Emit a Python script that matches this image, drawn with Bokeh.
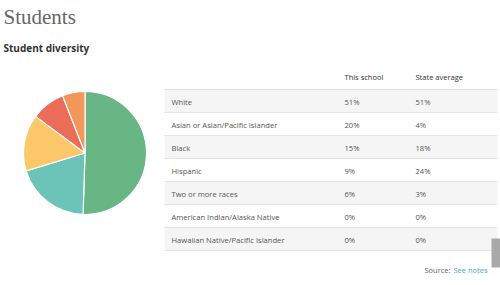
import numpy as np
from bokeh.plotting import figure
from bokeh.models import Range1d, ColumnDataSource
from bokeh.core.properties import value
from bokeh.embed import file_html
from bokeh.resources import INLINE

# ---- data ----
groups = ["White", "Asian or Asian/Pacific Islander", "Black", "Hispanic",
          "Two or more races", "American Indian/Alaska Native",
          "Hawaiian Native/Pacific Islander"]
this_school = [51, 20, 15, 9, 6, 0, 0]
state_average = [51, 4, 18, 24, 3, 0, 0]
slice_colors = ["#68b684", "#6cc3b7", "#fcc869", "#eb6c58", "#f3965a", "#999999", "#bbbbbb"]
col_headers = ["This school", "State average"]

W, H = 500, 285
def Y(y):
    return H - y

p = figure(width=W, height=H, x_range=Range1d(0, W), y_range=Range1d(0, H),
           output_backend="svg", toolbar_location=None, min_border=0)
p.axis.visible = False
p.grid.visible = False
p.outline_line_color = None
p.background_fill_color = "white"
p.border_fill_color = "white"

# ---- pie ----
vals = np.array(this_school, dtype=float)
frac = vals / vals.sum()
cum = np.concatenate([[0], np.cumsum(frac)])
mask = vals > 0
start = np.pi / 2 - 2 * np.pi * cum[:-1]
end = np.pi / 2 - 2 * np.pi * cum[1:]
pie = ColumnDataSource(dict(start=start[mask], end=end[mask],
                            color=[c for c, m in zip(slice_colors, mask) if m]))
p.wedge(x=84.5, y=Y(152.5), radius=61.5, start_angle="start", end_angle="end",
        direction="clock", fill_color="color", line_color="white", line_width=1.2,
        source=pie)

# ---- titles ----
p.text(x=[3], y=[Y(16)], text=["Students"], text_font=value("Liberation Serif"),
       text_font_size="21px", text_color="#666666", text_baseline="middle")
p.text(x=[3], y=[Y(47)], text=["Student diversity"], text_font=value("Open Sans"),
       text_font_size="10px", text_font_style="bold", text_color="#333333",
       text_baseline="middle")

# ---- table ----
x0, x1 = 164, 497
row_top = 89
row_h = 23
col_x = [344, 415]
n = len(groups)
tops = [row_top + i * row_h for i in range(n)]
centers = [t + row_h / 2 + 0.5 for t in tops]
shade = ["#f5f5f5" if i % 2 == 0 else "white" for i in range(n)]
p.quad(left=x0, right=x1, top=[Y(t) for t in tops], bottom=[Y(t + row_h) for t in tops],
       fill_color=shade, line_color=None)
lines_y = [row_top] + [t + row_h for t in tops]
p.segment(x0=x0, x1=x1, y0=[Y(v) for v in lines_y], y1=[Y(v) for v in lines_y],
          line_color="#e3e3e3", line_width=1)

p.text(x=col_x, y=[Y(76)] * 2, text=col_headers, text_font=value("Open Sans"),
       text_font_size="7.5px", text_color="#333333", text_baseline="middle")
p.text(x=[171] * n, y=[Y(c) for c in centers], text=groups, text_font=value("Open Sans"),
       text_font_size="7.6px", text_color="#555555", text_baseline="middle")
p.text(x=[col_x[0]] * n, y=[Y(c) for c in centers], text=[f"{v}%" for v in this_school],
       text_font=value("Open Sans"), text_font_size="7.6px", text_color="#555555",
       text_baseline="middle")
p.text(x=[col_x[1]] * n, y=[Y(c) for c in centers], text=[f"{v}%" for v in state_average],
       text_font=value("Open Sans"), text_font_size="7.6px", text_color="#555555",
       text_baseline="middle")

# ---- source ----
p.text(x=[452], y=[Y(269)], text=["Source: "], text_font=value("Open Sans"),
       text_font_size="7.5px", text_color="#666666", text_baseline="middle", text_align="right")
p.text(x=[453], y=[Y(269)], text=["See notes"], text_font=value("Open Sans"),
       text_font_size="7.5px", text_color="#4aa8c8", text_baseline="middle")

# ---- scrollbar thumb ----
p.quad(left=[491], right=[500], top=[Y(238)], bottom=[Y(267)], fill_color="#a9a9a9",
       line_color=None)

open("out.html", "w").write(file_html(p, INLINE))
